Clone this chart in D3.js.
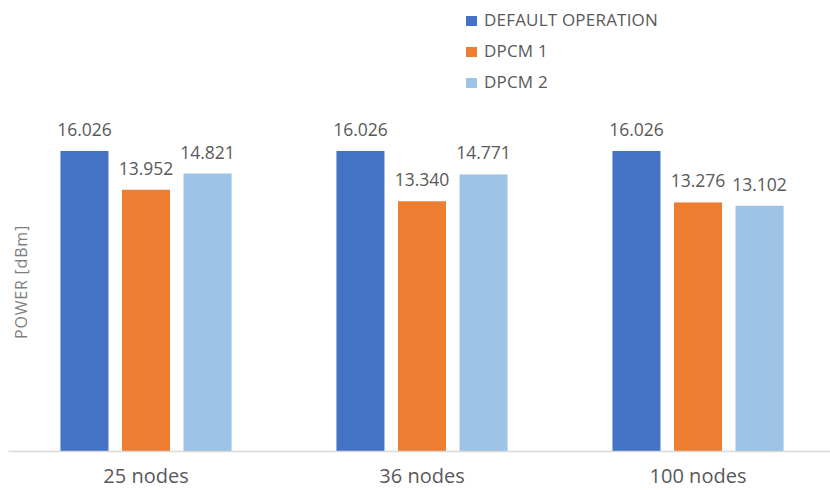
<!DOCTYPE html>
<html>
<head>
<meta charset="utf-8">
<script src="https://cdn.jsdelivr.net/npm/d3@7"></script>
<style>
  body { margin: 0; background: white; }
  text { font-family: "Open Sans", "Noto Sans", sans-serif; fill: #595959; }
</style>
</head>
<body>
<div id="chart"></div>
<script>
var categories = ["25 nodes", "36 nodes", "100 nodes"];
var seriesNames = ["DEFAULT OPERATION", "DPCM 1", "DPCM 2"];
var defaultOperation = [16.026, 16.026, 16.026];
var dpcm1 = [13.952, 13.340, 13.276];
var dpcm2 = [14.821, 14.771, 13.102];
var colors = ["#4472C4", "#ED7D31", "#9DC3E6"];

var width = 830, height = 490;
var seriesValues = [defaultOperation, dpcm1, dpcm2];

var svg = d3.select("#chart")
    .append("svg")
    .attr("width", width)
    .attr("height", height);

svg.append("rect")
    .attr("width", "100%")
    .attr("height", "100%")
    .attr("fill", "white");

var x0 = d3.scaleBand()
    .domain(categories)
    .range([8, 836])
    .paddingInner(0.38)
    .paddingOuter(0.19);

var x1 = d3.scaleBand()
    .domain(seriesNames)
    .range([0, x0.bandwidth()])
    .paddingInner(0.22);

var y = d3.scaleLinear()
    .domain([0, 18])
    .range([451, 114]);

// bars and labels
var groups = svg.append("g")
    .selectAll("g")
    .data(categories)
    .enter().append("g")
    .attr("transform", function(d) { return "translate(" + x0(d) + ",0)"; });

var cells = groups.selectAll("g")
    .data(function(c, i) {
        return seriesNames.map(function(s, j) {
            return { series: s, idx: j, value: seriesValues[j][i] };
        });
    })
    .enter().append("g");

cells.append("rect")
    .attr("x", function(d) { return x1(d.series); })
    .attr("y", function(d) { return y(d.value); })
    .attr("width", x1.bandwidth())
    .attr("height", function(d) { return y(0) - y(d.value); })
    .attr("fill", function(d) { return colors[d.idx]; });

cells.append("text")
    .attr("x", function(d) { return x1(d.series) + x1.bandwidth() / 2; })
    .attr("y", function(d) { return y(d.value) - 15; })
    .attr("text-anchor", "middle")
    .style("font-size", "17.5px")
    .text(function(d) { return d.value.toFixed(3); });

// x axis
var xAxis = svg.append("g")
    .attr("transform", "translate(0," + y(0) + ")")
    .call(d3.axisBottom(x0).tickSize(0).tickPadding(18));

xAxis.select(".domain").attr("stroke", "#d9d9d9").attr("stroke-width", 1.5);
xAxis.selectAll("text")
    .style("font-size", "20px")
    .style("font-family", "'Open Sans', sans-serif")
    .attr("fill", "#595959");

// y axis title
svg.append("text")
    .attr("transform", "translate(27,282) rotate(-90)")
    .attr("text-anchor", "middle")
    .style("font-size", "16px")
    .style("letter-spacing", "0.8px")
    .style("fill", "#7f7f7f")
    .text("POWER  [dBm]");

// legend
var legend = svg.append("g")
    .selectAll("g")
    .data(seriesNames)
    .enter().append("g")
    .attr("transform", function(d, i) { return "translate(466," + (20 + i * 31) + ")"; });

legend.append("rect")
    .attr("x", 0)
    .attr("y", -4)
    .attr("width", 11)
    .attr("height", 10)
    .attr("fill", function(d, i) { return colors[i]; });

legend.append("text")
    .attr("x", 18)
    .attr("y", 6)
    .style("font-size", "17px")
    .style("letter-spacing", "0.2px")
    .text(function(d) { return d; });
</script>
</body>
</html>
